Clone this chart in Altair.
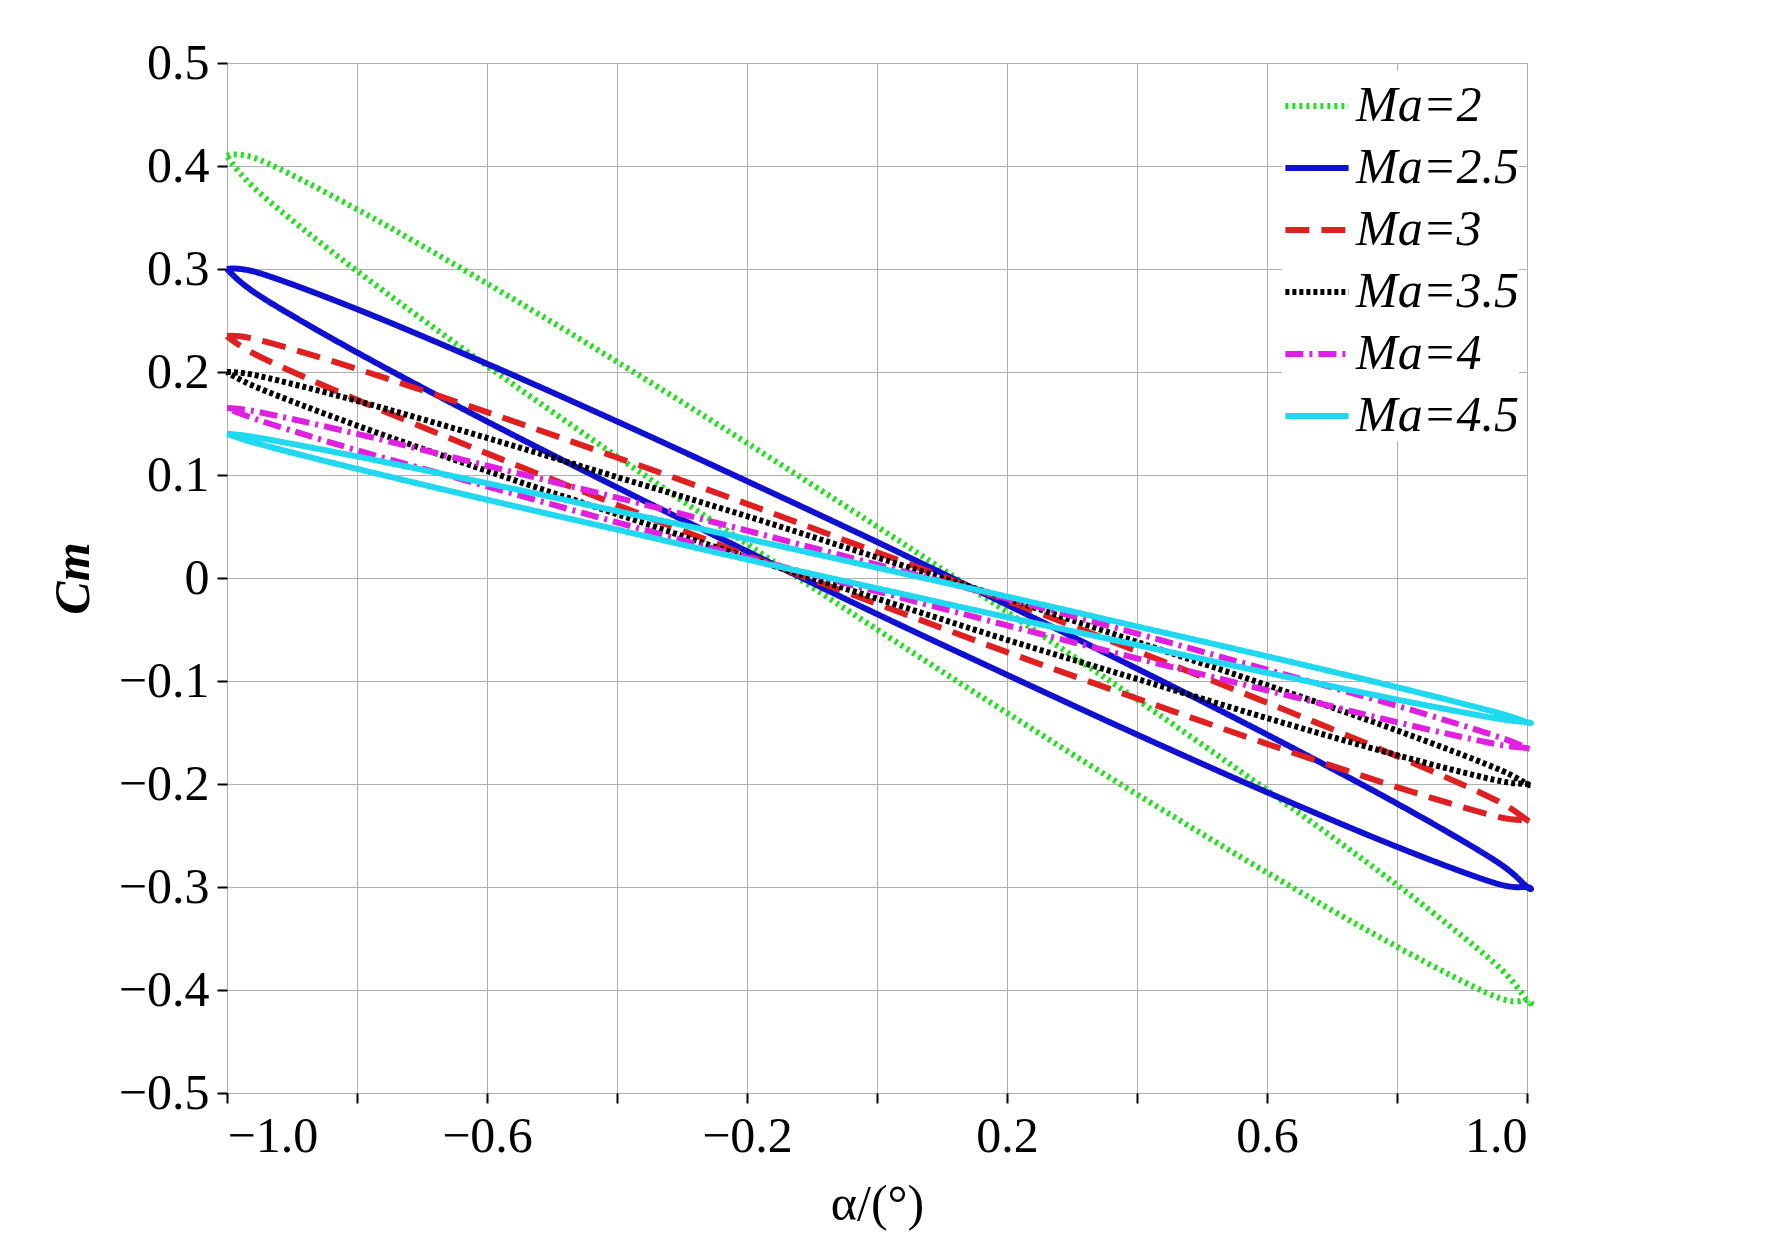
import altair as alt
import pandas as pd

alpha = [-1, -0.95, -0.8, -0.6, -0.4, -0.2, 0, 0.2, 0.4, 0.6, 0.8, 0.95, 1]
series = ["Ma=2", "Ma=2.5", "Ma=3", "Ma=3.5", "Ma=4", "Ma=4.5"]
upper = {
    "Ma=2":   [.41, .406, .358, .286, .210, .131, .050, -.033, -.118, -.206, -.298, -.374, -.41],
    "Ma=2.5": [.30, .296, .261, .208, .152, .094, .035, -.026, -.088, -.152, -.219, -.274, -.30],
    "Ma=3":   [.235, .231, .203, .161, .117, .072, .025, -.022, -.071, -.121, -.173, -.215, -.235],
    "Ma=3.5": [.20, .196, .172, .136, .098, .060, .020, -.020, -.062, -.104, -.148, -.184, -.20],
    "Ma=4":   [.165, .161, .140, .109, .078, .046, .013, -.020, -.054, -.089, -.124, -.153, -.165],
    "Ma=4.5": [.14, .136, .118, .092, .065, .038, .010, -.018, -.047, -.076, -.106, -.130, -.14],
}
lower = {
    "Ma=2":   [.41, .374, .298, .206, .118, .033, -.050, -.131, -.210, -.286, -.358, -.406, -.41],
    "Ma=2.5": [.30, .274, .219, .152, .088, .026, -.035, -.094, -.152, -.208, -.261, -.296, -.30],
    "Ma=3":   [.235, .215, .173, .121, .071, .022, -.025, -.072, -.117, -.161, -.203, -.231, -.235],
    "Ma=3.5": [.20, .184, .148, .104, .062, .020, -.020, -.060, -.098, -.136, -.172, -.196, -.20],
    "Ma=4":   [.165, .153, .124, .089, .054, .020, -.013, -.046, -.078, -.109, -.140, -.161, -.165],
    "Ma=4.5": [.14, .130, .106, .076, .047, .018, -.010, -.038, -.065, -.092, -.118, -.136, -.14],
}
colors = ["#22e01e", "#1010d0", "#e02020", "#000000", "#e020e0", "#20d8f0"]
dashes = [[3, 4], [1, 0], [24, 12], [4, 3], [18, 6, 3, 6], [1, 0]]
widths = [6, 6, 1.5, 5, 1.5, 1.5]

rows = []
for s in series:
    o = 0
    for a, v in zip(alpha, upper[s]):
        rows.append(dict(s=s, a=a, cm=v, o=o)); o += 1
    for a, v in zip(alpha[::-1], lower[s][::-1]):
        rows.append(dict(s=s, a=a, cm=v, o=o)); o += 1
df = pd.DataFrame(rows)

font = "Liberation Serif"
xs = alt.Scale(domain=[-1, 1], nice=False)
ys = alt.Scale(domain=[-0.5, 0.5], nice=False)
xvals = [-1, -0.8, -0.6, -0.4, -0.2, 0, 0.2, 0.4, 0.6, 0.8, 1]
yvals = [-0.5, -0.4, -0.3, -0.2, -0.1, 0, 0.1, 0.2, 0.3, 0.4, 0.5]
lab = "datum.value==0 ? '0' : replace(format(datum.value, '.1f'), '-', '−')"

lines = alt.Chart(df).mark_line(interpolate="cardinal").encode(
    x=alt.X("a:Q", scale=xs, axis=alt.Axis(values=xvals, labelExpr=lab, title="α/(°)",
            titleFontWeight="normal", labelFontSize=50, titleFontSize=50, labelFont=font,
            titleFont=font, tickSize=10, labelPadding=8, titlePadding=18, grid=True,
            gridColor="#b0b0b0", domain=False, tickColor="black", tickWidth=2, labelColor="black")),
    y=alt.Y("cm:Q", scale=ys, axis=alt.Axis(values=yvals, labelExpr=lab, title="Cm",
            titleFontStyle="italic", titleFontWeight="bold", labelFontSize=50, titleFontSize=50,
            labelFont=font, titleFont=font, tickSize=10, labelPadding=8, titlePadding=20,
            grid=True, gridColor="#b0b0b0", domain=False, tickColor="black", tickWidth=2,
            labelColor="black")),
    order="o:Q",
    color=alt.Color("s:N", scale=alt.Scale(domain=series, range=colors),
                    legend=alt.Legend(title=None, orient="top-right", labelFont=font,
                                      labelFontSize=50, labelFontStyle="italic",
                                      symbolType="stroke", symbolSize=4000, rowPadding=2,
                                      fillColor="white", offset=8, labelLimit=400)),
    strokeDash=alt.StrokeDash("s:N", scale=alt.Scale(domain=series, range=dashes), legend=alt.Legend(title=None, orient="top-right")),
    strokeWidth=alt.StrokeWidth("s:N", scale=alt.Scale(domain=series, range=widths), legend=alt.Legend(title=None, orient="top-right")),
)

chart = lines.properties(
    width=1300, height=1030
).configure_view(stroke="black", strokeWidth=3).configure(background="white")
chart = chart.properties(padding={"left": 40, "top": 30, "right": 40, "bottom": 20})
chart.save("out.html", embed_options={"renderer": "svg", "actions": False})
